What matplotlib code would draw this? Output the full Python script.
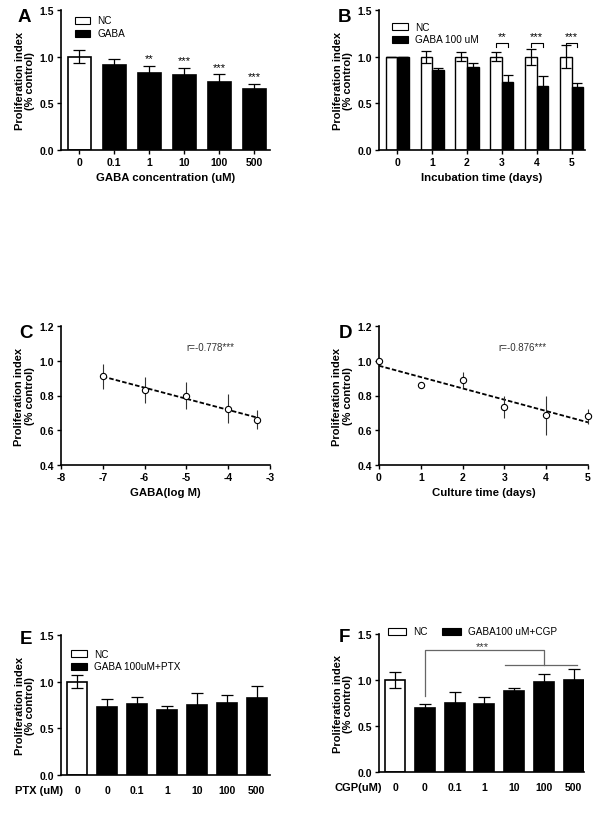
import numpy as np
import matplotlib
matplotlib.use("Agg")
import matplotlib.pyplot as plt

plt.rcParams['font.family'] = ['Liberation Sans', 'DejaVu Sans']
plt.rcParams['axes.unicode_minus'] = False

# ---------------- data ----------------
# Panel A
a_labels = ["0", "0.1", "1", "10", "100", "500"]
a_means = [1.00, 0.91, 0.83, 0.80, 0.725, 0.655]
a_errs = [0.07, 0.07, 0.075, 0.08, 0.085, 0.055]
a_stars = ["", "", "**", "***", "***", "***"]

# Panel B
b_days = ["0", "1", "2", "3", "4", "5"]
b_nc_means = [1.0, 1.0, 1.0, 1.0, 1.0, 1.0]
b_nc_errs = [0.0, 0.065, 0.045, 0.045, 0.085, 0.12]
b_gaba_means = [1.0, 0.86, 0.89, 0.73, 0.685, 0.68]
b_gaba_errs = [0.0, 0.015, 0.04, 0.07, 0.11, 0.04]
b_stars = ["", "", "", "**", "***", "***"]

# Panel C
c_x = [-7, -6, -5, -4, -3.3]
c_y = [0.91, 0.83, 0.80, 0.725, 0.66]
c_err = [0.07, 0.075, 0.08, 0.085, 0.055]
c_r = "r=-0.778***"

# Panel D
d_x = [0, 1, 2, 3, 4, 5]
d_y = [1.00, 0.86, 0.89, 0.735, 0.685, 0.68]
d_err = [0.0, 0.0, 0.045, 0.065, 0.11, 0.045]
d_r = "r=-0.876***"

# Panel E
e_labels = ["0", "0", "0.1", "1", "10", "100", "500"]
e_means = [1.00, 0.725, 0.76, 0.70, 0.75, 0.775, 0.82]
e_errs = [0.07, 0.085, 0.08, 0.04, 0.125, 0.08, 0.13]

# Panel F
f_labels = ["0", "0", "0.1", "1", "10", "100", "500"]
f_means = [1.00, 0.70, 0.75, 0.74, 0.885, 0.98, 1.005]
f_errs = [0.085, 0.04, 0.125, 0.07, 0.03, 0.08, 0.12]

# ---------------- style ----------------
TICK_FS = 7.5
LAB_FS = 8.2
LEG_FS = 7.2
YLABEL = "Proliferation index\n(% control)"

fig = plt.figure(figsize=(6.0, 8.2), dpi=100)

def style_axes(ax):
    for s in ["top", "right"]:
        ax.spines[s].set_visible(False)
    for s in ["left", "bottom"]:
        ax.spines[s].set_linewidth(1.2)
    ax.tick_params(axis="both", length=3, width=1.0, labelsize=TICK_FS, pad=2)
    for lab in ax.get_xticklabels() + ax.get_yticklabels():
        lab.set_fontweight("bold")
    ax.set_ylabel(YLABEL, fontsize=8.0, fontweight="bold", labelpad=3, linespacing=1.1)

def panel_letter(x, y, s):
    fig.text(x / 600, 1 - y / 820, s, fontsize=13.5, fontweight="bold", ha="left", va="center")

def legend_box(ax, x, y, color, text, w=0.075, h=0.05):
    ax.add_patch(plt.Rectangle((x, y - h / 2), w, h, transform=ax.transAxes,
                               facecolor=color, edgecolor="black", lw=0.8, clip_on=False))
    ax.text(x + w + 0.035, y, text, transform=ax.transAxes, fontsize=LEG_FS,
            va="center", ha="left")

ekw = dict(ecolor="black", elinewidth=0.9, capsize=4.5, capthick=0.9)

# ---------------- Panel A ----------------
axA = fig.add_axes([61 / 600, 1 - 151 / 820, 209 / 600, 140 / 820])
xa = np.arange(len(a_labels))
colors_a = ["white"] + ["black"] * (len(a_labels) - 1)
axA.bar(xa, a_means, width=0.66, color=colors_a, edgecolor="black", lw=1.2,
        yerr=a_errs, error_kw=ekw, zorder=2)
for xi, m, e, s in zip(xa, a_means, a_errs, a_stars):
    if s:
        axA.text(xi, m + e + 0.03, s, ha="center", va="bottom", fontsize=8)
axA.set_xlim(-0.52, 5.45)
axA.set_ylim(0, 1.5)
axA.set_yticks([0, 0.5, 1.0, 1.5])
axA.set_yticklabels(["0.0", "0.5", "1.0", "1.5"])
axA.set_xticks(xa)
axA.set_xticklabels(a_labels)
axA.set_xlabel("GABA concentration (uM)", fontsize=LAB_FS, fontweight="bold", labelpad=4)
style_axes(axA)
legend_box(axA, 0.065, 0.925, "white", "NC")
legend_box(axA, 0.065, 0.835, "black", "GABA")
panel_letter(18, 17, "A")

# ---------------- Panel B ----------------
axB = fig.add_axes([379 / 600, 1 - 151 / 820, 206 / 600, 140 / 820])
xb = np.arange(len(b_days))
bw = 0.33
axB.bar(xb - bw / 2, b_nc_means, width=bw, color="white", edgecolor="black", lw=1.0,
        yerr=b_nc_errs, error_kw=dict(ekw, capsize=3.5), zorder=2)
axB.bar(xb + bw / 2, b_gaba_means, width=bw, color="black", edgecolor="black", lw=1.0,
        yerr=b_gaba_errs, error_kw=dict(ekw, capsize=3.5), zorder=2)
for xi, s in zip(xb, b_stars):
    if s:
        y0, y1 = 1.10, 1.15
        axB.plot([xi - bw / 2, xi - bw / 2, xi + bw / 2, xi + bw / 2], [y0, y1, y1, y0],
                 color="black", lw=0.8)
        axB.text(xi, y1 + 0.015, s, ha="center", va="bottom", fontsize=8)
axB.set_xlim(-0.52, 5.38)
axB.set_ylim(0, 1.5)
axB.set_yticks([0, 0.5, 1.0, 1.5])
axB.set_yticklabels(["0.0", "0.5", "1.0", "1.5"])
axB.set_xticks(xb)
axB.set_xticklabels(b_days)
axB.set_xlabel("Incubation time (days)", fontsize=LAB_FS, fontweight="bold", labelpad=4)
style_axes(axB)
legend_box(axB, 0.065, 0.88, "white", "NC")
legend_box(axB, 0.065, 0.79, "black", "GABA 100 uM")
panel_letter(338, 17, "B")

# ---------------- Panel C ----------------
axC = fig.add_axes([61 / 600, 1 - 466 / 820, 209 / 600, 139 / 820])
axC.errorbar(c_x, c_y, yerr=c_err, fmt="o", mfc="white", mec="black", ms=4.5, mew=0.8,
             ecolor="#333333", elinewidth=0.8, capsize=0, zorder=3)
pc = np.polyfit(c_x, c_y, 1)
xc_line = np.array([min(c_x), max(c_x)])
axC.plot(xc_line, np.polyval(pc, xc_line), ls=(0, (2.5, 1.2)), color="black", lw=1.3, zorder=2)
axC.text(-5.0, 1.08, c_r, fontsize=7, va="center", ha="left", color="#333333")
axC.set_xlim(-8, -3)
axC.set_ylim(0.4, 1.2)
axC.set_xticks([-8, -7, -6, -5, -4, -3])
axC.set_yticks([0.4, 0.6, 0.8, 1.0, 1.2])
axC.set_yticklabels(["0.4", "0.6", "0.8", "1.0", "1.2"])
axC.set_xlabel("GABA(log M)", fontsize=LAB_FS, fontweight="bold", labelpad=4)
style_axes(axC)
panel_letter(19, 333, "C")

# ---------------- Panel D ----------------
axD = fig.add_axes([379 / 600, 1 - 466 / 820, 209 / 600, 139 / 820])
axD.errorbar(d_x, d_y, yerr=d_err, fmt="o", mfc="white", mec="black", ms=4.5, mew=0.8,
             ecolor="#333333", elinewidth=0.8, capsize=0, zorder=3, clip_on=False)
pd_ = np.polyfit(d_x, d_y, 1)
xd_line = np.array([min(d_x), max(d_x)])
axD.plot(xd_line, np.polyval(pd_, xd_line), ls=(0, (2.5, 1.2)), color="black", lw=1.3, zorder=2)
axD.text(2.85, 1.08, d_r, fontsize=7, va="center", ha="left", color="#333333")
axD.set_xlim(0, 5)
axD.set_ylim(0.4, 1.2)
axD.set_xticks(d_x)
axD.set_yticks([0.4, 0.6, 0.8, 1.0, 1.2])
axD.set_yticklabels(["0.4", "0.6", "0.8", "1.0", "1.2"])
axD.set_xlabel("Culture time (days)", fontsize=LAB_FS, fontweight="bold", labelpad=4)
style_axes(axD)
panel_letter(339, 333, "D")

# ---------------- Panel E ----------------
axE = fig.add_axes([61 / 600, 1 - 776 / 820, 209 / 600, 140 / 820])
xe = np.arange(len(e_labels))
colors_e = ["white"] + ["black"] * (len(e_labels) - 1)
axE.bar(xe, e_means, width=0.67, color=colors_e, edgecolor="black", lw=1.2,
        yerr=e_errs, error_kw=dict(ekw, capsize=4), zorder=2)
axE.set_xlim(-0.55, 6.45)
axE.set_ylim(0, 1.5)
axE.set_yticks([0, 0.5, 1.0, 1.5])
axE.set_yticklabels(["0.0", "0.5", "1.0", "1.5"])
axE.set_xticks(xe)
axE.set_xticklabels(e_labels)
style_axes(axE)
axE.tick_params(axis="x", length=0, pad=7)
axE.text(-0.22, -0.11, "PTX (uM)", transform=axE.transAxes, fontsize=TICK_FS + 0.5,
         fontweight="bold", ha="left", va="center")
legend_box(axE, 0.05, 0.865, "white", "NC")
legend_box(axE, 0.05, 0.775, "black", "GABA 100uM+PTX")
panel_letter(20, 640, "E")

# ---------------- Panel F ----------------
axF = fig.add_axes([379 / 600, 1 - 773 / 820, 205 / 600, 138 / 820])
xf = np.arange(len(f_labels))
colors_f = ["white"] + ["black"] * (len(f_labels) - 1)
axF.bar(xf, f_means, width=0.67, color=colors_f, edgecolor="black", lw=1.2,
        yerr=f_errs, error_kw=dict(ekw, capsize=4), zorder=2)
gray = "#666666"
axF.plot([xf[1], xf[1], xf[5], xf[5]], [0.83, 1.326, 1.326, 1.163], color=gray, lw=0.9)
axF.plot([3.7, 6.1], [1.163, 1.163], color=gray, lw=0.9)
axF.text(2.92, 1.37, "***", ha="center", va="center", fontsize=8, color="#333333")
axF.set_xlim(-0.54, 6.35)
axF.set_ylim(0, 1.5)
axF.set_yticks([0, 0.5, 1.0, 1.5])
axF.set_yticklabels(["0.0", "0.5", "1.0", "1.5"])
axF.set_xticks(xf)
axF.set_xticklabels(f_labels)
style_axes(axF)
axF.tick_params(axis="x", length=0, pad=7)
axF.text(-0.215, -0.11, "CGP(uM)", transform=axF.transAxes, fontsize=TICK_FS + 0.5,
         fontweight="bold", ha="left", va="center")
legend_box(axF, 0.045, 1.02, "white", "NC", w=0.085)
legend_box(axF, 0.305, 1.02, "black", "GABA100 uM+CGP", w=0.095)
panel_letter(339, 637, "F")

fig.savefig("out.png", dpi=100)
